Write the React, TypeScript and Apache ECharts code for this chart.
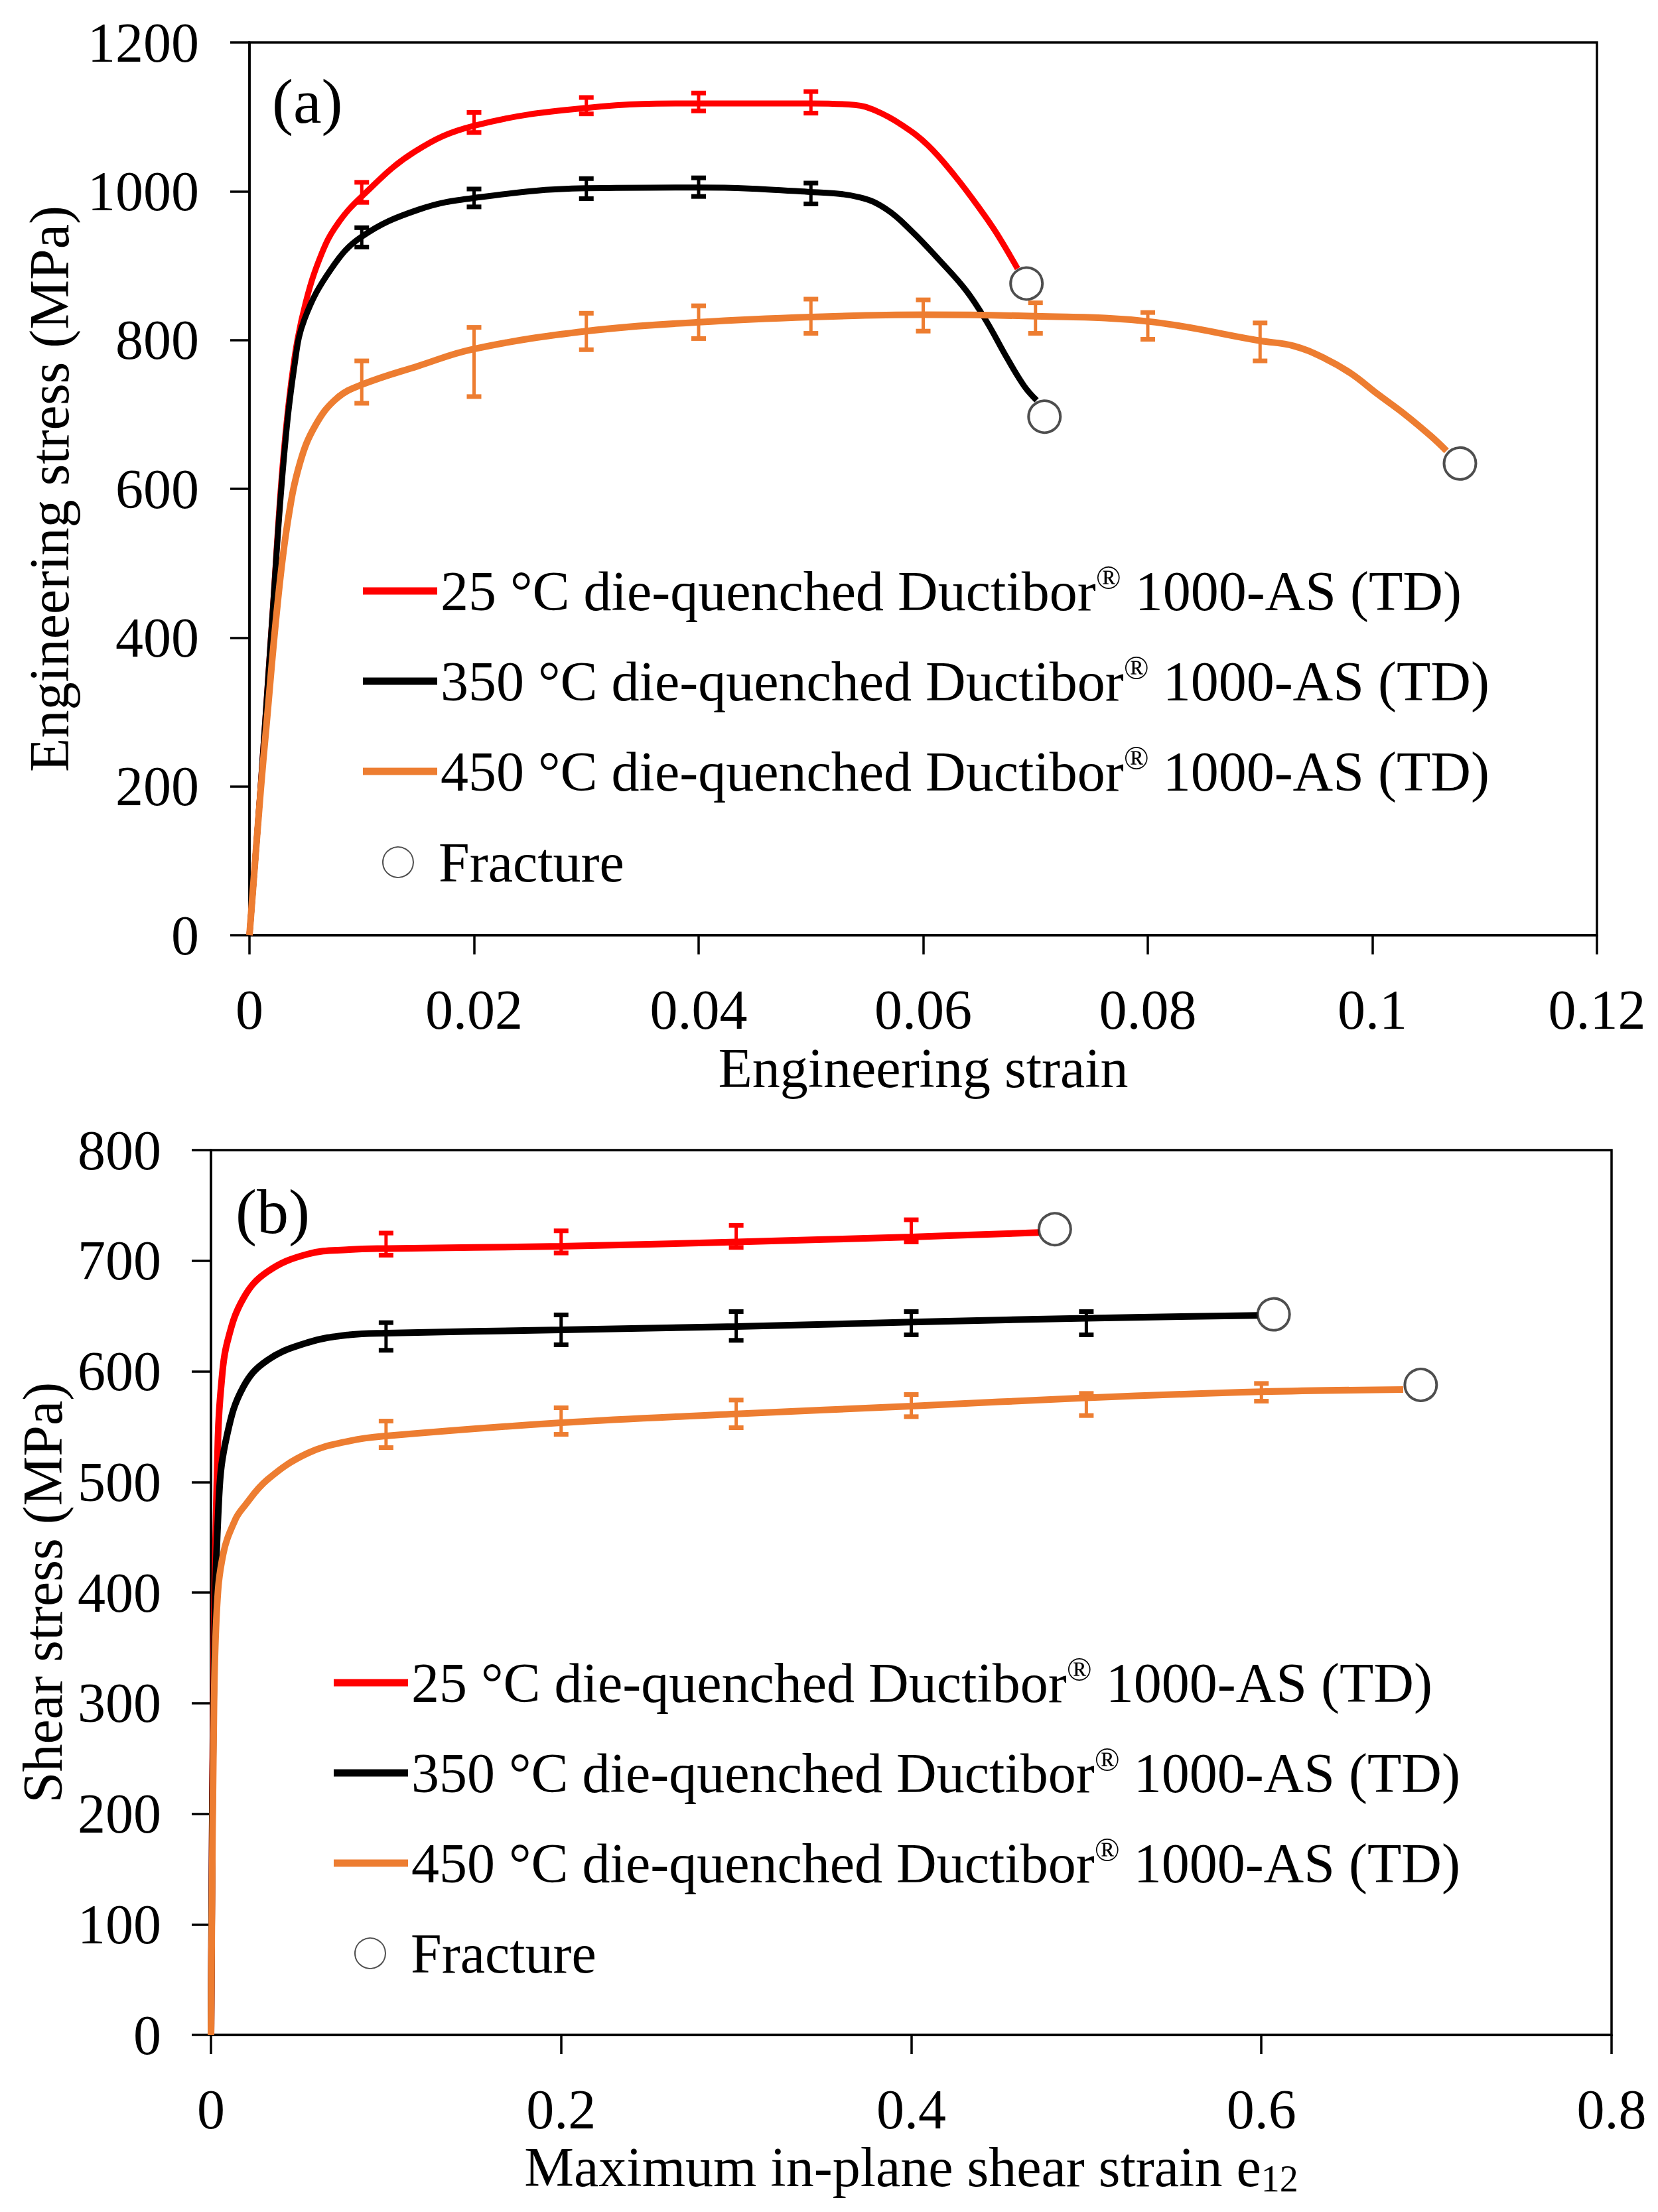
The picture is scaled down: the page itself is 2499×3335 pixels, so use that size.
import * as echarts from "echarts";
import { useEffect, useRef } from "react";

const FONT = '"Liberation Serif", "Times New Roman", serif';

const RED = "#ff0000";
const BLACK = "#000000";
const ORANGE = "#ed7d31";

const NAME_25 = "25 °C die-quenched Ductibor® 1000-AS (TD)";
const NAME_350 = "350 °C die-quenched Ductibor® 1000-AS (TD)";
const NAME_450 = "450 °C die-quenched Ductibor® 1000-AS (TD)";
const NAME_FRACTURE = "Fracture";

// (a) uniaxial tension: [engineering strain, engineering stress MPa]
const tension25 = [
  [0, 0], [0.001, 200], [0.002, 420], [0.003, 640], [0.004, 775], [0.005, 850],
  [0.0064, 915], [0.0078, 955], [0.01, 993], [0.0147, 1053], [0.02, 1088],
  [0.03, 1112], [0.04, 1118], [0.05, 1118], [0.0539, 1116], [0.0558, 1108],
  [0.0581, 1089], [0.0604, 1062], [0.0628, 1021], [0.0652, 973], [0.0666, 942],
  [0.0684, 896],
];
const tension350 = [
  [0, 0], [0.001, 200], [0.002, 420], [0.003, 630], [0.004, 765], [0.0049, 828],
  [0.0073, 896], [0.01, 939], [0.015, 975], [0.02, 991], [0.03, 1004], [0.04, 1005],
  [0.05, 999], [0.0543, 992], [0.0567, 976], [0.059, 946], [0.0614, 908],
  [0.0638, 867], [0.0656, 826], [0.0675, 775], [0.069, 738], [0.0701, 719],
];
const tension450 = [
  [0, 0], [0.001, 195], [0.0015, 280], [0.0025, 445], [0.0034, 555], [0.0045, 635],
  [0.0059, 686], [0.0078, 722], [0.01, 740], [0.015, 765], [0.02, 788], [0.03, 812],
  [0.04, 824], [0.05, 831], [0.06, 834], [0.07, 832], [0.08, 825], [0.09, 799],
  [0.093, 792], [0.0958, 775], [0.0981, 755], [0.1005, 727], [0.1029, 700],
  [0.1052, 671], [0.1066, 651],
];
// error bars: [strain, low, high]
const tensionBars25 = [
  [0.01, 985, 1012], [0.02, 1079, 1106], [0.03, 1104, 1126], [0.04, 1108, 1132], [0.05, 1105, 1134],
];
const tensionBars350 = [
  [0.01, 925, 951], [0.02, 979, 1003], [0.03, 990, 1017], [0.04, 993, 1018], [0.05, 983, 1011],
];
const tensionBars450 = [
  [0.01, 715, 772], [0.02, 724, 817], [0.03, 787, 836], [0.04, 802, 846], [0.05, 809, 855],
  [0.06, 812, 854], [0.07, 809, 850], [0.08, 801, 837], [0.09, 772, 823],
];
const tensionFracture = [
  [0.0692, 876], [0.0708, 697], [0.1078, 634],
];

// (b) shear: [max in-plane shear strain, shear stress MPa]
const shear25 = [
  [0, 0], [0.0015, 330], [0.004, 540], [0.006, 590], [0.00925, 626], [0.0185, 666],
  [0.0322, 690], [0.0553, 706], [0.079, 710], [0.1, 711], [0.2, 713], [0.3, 717],
  [0.4, 721.5], [0.473, 725.5],
];
const shear350 = [
  [0, 0], [0.0015, 300], [0.0046, 487], [0.00925, 543], [0.0185, 586], [0.0322, 610],
  [0.0553, 626], [0.079, 633], [0.1, 634.5], [0.2, 637.5], [0.3, 640.5], [0.4, 644.5],
  [0.5, 648], [0.598, 650.5],
];
const shear450 = [
  [0, 0], [0.0015, 270], [0.0033, 383], [0.007, 435], [0.0139, 466], [0.0185, 477],
  [0.0322, 502], [0.0553, 526], [0.079, 537], [0.1, 541.5], [0.2, 553.5], [0.3, 561.5],
  [0.4, 568.5], [0.5, 576], [0.6, 581.5], [0.681, 583.5],
];
const shearBars25 = [
  [0.1, 705, 725], [0.2, 707, 727], [0.3, 712, 732], [0.4, 717, 737],
];
const shearBars350 = [
  [0.1, 619, 644], [0.2, 624, 651], [0.3, 628, 654], [0.4, 633, 654], [0.5, 633, 654],
];
const shearBars450 = [
  [0.1, 531, 555], [0.2, 543, 567], [0.3, 549, 574], [0.4, 559, 579], [0.5, 560, 580], [0.6, 573, 589],
];
const shearFracture = [
  [0.482, 728.5], [0.607, 651.5], [0.691, 587.7],
];

const textBase = { fontFamily: FONT, color: "#000", fontSize: 84 };

const legendRich = {
  r: { fontFamily: FONT, color: "#000", fontSize: 50, lineHeight: 50, verticalAlign: "top" },
};

const axisCommon = (grid: number) => ({
  gridIndex: grid,
  type: "value",
  splitLine: { show: false },
  axisLine: { show: true, lineStyle: { color: "#000", width: 3.5 } },
  axisTick: { show: true, inside: false, length: 29, lineStyle: { color: "#000", width: 3.5 } },
  nameLocation: "middle",
});

const fmt = (v: number) => String(parseFloat(v.toFixed(3)));

const errorBars = (data: number[][], color: string, xi: number) => ({
  type: "custom",
  xAxisIndex: xi,
  yAxisIndex: xi,
  data,
  encode: { x: 0, y: [1, 2] },
  z: 3,
  silent: true,
  renderItem: (_p: any, api: any) => {
    const x = api.value(0);
    const lo = api.coord([x, api.value(1)]);
    const hi = api.coord([x, api.value(2)]);
    const hw = 11;
    return {
      type: "group",
      children: [
        { type: "line", shape: { x1: lo[0], y1: lo[1], x2: hi[0], y2: hi[1] }, style: { stroke: color, lineWidth: 5 } },
        { type: "line", shape: { x1: lo[0] - hw, y1: lo[1], x2: lo[0] + hw, y2: lo[1] }, style: { stroke: color, lineWidth: 7 } },
        { type: "line", shape: { x1: hi[0] - hw, y1: hi[1], x2: hi[0] + hw, y2: hi[1] }, style: { stroke: color, lineWidth: 7 } },
      ],
    };
  },
});

const curve = (name: string, data: number[][], color: string, xi: number, width: number) => ({
  name,
  type: "line",
  xAxisIndex: xi,
  yAxisIndex: xi,
  data,
  showSymbol: false,
  smooth: 0.4,
  z: 2,
  itemStyle: { color },
  lineStyle: { color, width },
});

const fracture = (data: number[][], xi: number) => ({
  name: NAME_FRACTURE,
  type: "scatter",
  xAxisIndex: xi,
  yAxisIndex: xi,
  data,
  symbol: "circle",
  symbolSize: 48,
  z: 5,
  itemStyle: { color: "#fff", borderColor: "#222", borderWidth: 4 },
});

const lineLegend = (left: number, top: number) => ({
  orient: "vertical",
  left,
  top,
  itemWidth: 112,
  itemHeight: 11,
  itemGap: 46,
  icon: "rect",
  selectedMode: false,
  data: [NAME_25, NAME_350, NAME_450],
  formatter: (n: string) => n.replace("®", "{r|®}"),
  textStyle: { ...textBase, lineHeight: 90, rich: legendRich },
});

const fractureLegend = (left: number, top: number) => ({
  orient: "vertical",
  left,
  top,
  itemWidth: 112,
  itemHeight: 46,
  icon: "circle",
  selectedMode: false,
  data: [NAME_FRACTURE],
  textStyle: { ...textBase, lineHeight: 90 },
});

export default function App() {
  const ref = useRef<HTMLDivElement | null>(null);

  useEffect(() => {
    if (!ref.current) return;
    const chart = echarts.init(ref.current, undefined, { renderer: "svg" });
    chart.setOption({
      animation: false,
      backgroundColor: "#fff",
      grid: [
        { left: 376, top: 64, width: 2031, height: 1346, show: true, borderColor: "#000", borderWidth: 3.5 },
        { left: 318, top: 1734, width: 2111, height: 1334, show: true, borderColor: "#000", borderWidth: 3.5 },
      ],
      xAxis: [
        {
          ...axisCommon(0),
          min: 0, max: 0.12, interval: 0.02,
          name: "Engineering strain",
          nameGap: 158,
          nameTextStyle: textBase,
          axisLabel: { ...textBase, margin: 70, formatter: fmt },
        },
        {
          ...axisCommon(1),
          min: 0, max: 0.8, interval: 0.2,
          name: "Maximum in-plane shear strain e{s|12}",
          nameGap: 148,
          nameTextStyle: {
            ...textBase,
            lineHeight: 90,
            rich: { s: { fontFamily: FONT, color: "#000", fontSize: 56, lineHeight: 40, verticalAlign: "bottom" } },
          },
          axisLabel: { ...textBase, margin: 70, formatter: fmt },
        },
      ],
      yAxis: [
        {
          ...axisCommon(0),
          min: 0, max: 1200, interval: 200,
          name: "Engineering stress (MPa)",
          nameGap: 260,
          nameTextStyle: textBase,
          axisLabel: { ...textBase, margin: 76, formatter: (v: number) => String(v) },
        },
        {
          ...axisCommon(1),
          min: 0, max: 800, interval: 100,
          name: "Shear stress (MPa)",
          nameGap: 211,
          nameTextStyle: textBase,
          axisLabel: { ...textBase, margin: 75, formatter: (v: number) => String(v) },
        },
      ],
      legend: [
        lineLegend(542, 841),
        fractureLegend(571, 1250),
        lineLegend(498, 2487),
        fractureLegend(529, 2895),
      ],
      graphic: [
        { type: "text", x: 410, y: 152, style: { text: "(a)", fontFamily: FONT, fontSize: 96, fill: "#000", verticalAlign: "middle", align: "left" } },
        { type: "text", x: 355, y: 1826, style: { text: "(b)", fontFamily: FONT, fontSize: 96, fill: "#000", verticalAlign: "middle", align: "left" } },
      ],
      series: [
        curve(NAME_25, tension25, RED, 0, 9),
        curve(NAME_350, tension350, BLACK, 0, 9),
        curve(NAME_450, tension450, ORANGE, 0, 10),
        errorBars(tensionBars25, RED, 0),
        errorBars(tensionBars350, BLACK, 0),
        errorBars(tensionBars450, ORANGE, 0),
        fracture(tensionFracture, 0),
        curve(NAME_25, shear25, RED, 1, 10),
        curve(NAME_350, shear350, BLACK, 1, 10),
        curve(NAME_450, shear450, ORANGE, 1, 10),
        errorBars(shearBars25, RED, 1),
        errorBars(shearBars350, BLACK, 1),
        errorBars(shearBars450, ORANGE, 1),
        fracture(shearFracture, 1),
      ],
    });
    return () => chart.dispose();
  }, []);

  return (
    <div
      ref={ref}
      style={{ position: "absolute", left: 0, top: 0, width: 2499, height: 3335, background: "#fff" }}
    />
  );
}
